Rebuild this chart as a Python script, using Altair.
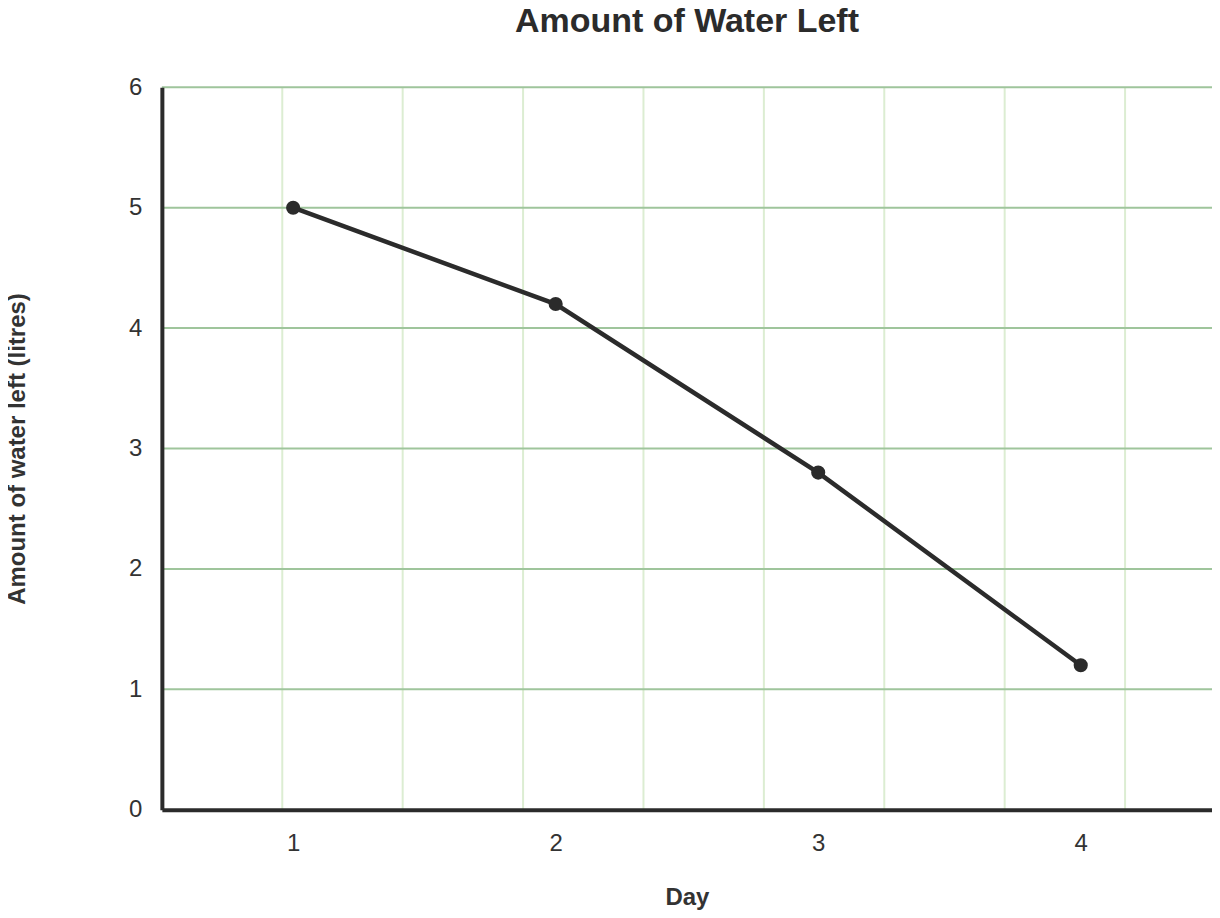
import altair as alt
import pandas as pd

days = ["1", "2", "3", "4"]
water = [5, 4.2, 2.8, 1.2]
y_grid = [1, 2, 3, 4, 5, 6]
v_grid = [1, 2, 3, 4, 5, 6, 7, 8]
v_grid_span = 1051 / 120.5

df = pd.DataFrame({"Day": days, "Water": water})
hg = pd.DataFrame({"y": y_grid})
vg = pd.DataFrame({"x": v_grid})

FONT = "Liberation Sans"
INK = "#2b2b2b"

vrules = alt.Chart(vg).mark_rule(color="#dcedd2", strokeWidth=2).encode(
    x=alt.X("x:Q", scale=alt.Scale(domain=[0, v_grid_span], nice=False, zero=False), axis=None)
)

hrules = alt.Chart(hg).mark_rule(color="#9fc59c", strokeWidth=2).encode(
    y=alt.Y("y:Q", scale=alt.Scale(domain=[0, 6], nice=False))
)

line = alt.Chart(df).mark_line(
    color=INK, strokeWidth=4.5,
    point=alt.OverlayMarkDef(filled=True, size=200, color=INK, opacity=1),
).encode(
    x=alt.X("Day:O", title="Day", sort=days,
            scale=alt.Scale(type="point", padding=0.5),
            axis=alt.Axis(labelAngle=0, ticks=False, grid=False, domainColor=INK,
                          domainWidth=4, labelFontSize=24, labelColor="#333333",
                          labelPadding=22, titleFontSize=24, titleFontWeight="bold",
                          titleColor="#333333", titlePadding=30, zindex=1)),
    y=alt.Y("Water:Q", title="Amount of water left (litres)",
            scale=alt.Scale(domain=[0, 6], nice=False),
            axis=alt.Axis(values=[0, 1, 2, 3, 4, 5, 6], format="d", ticks=False, grid=False,
                          domainColor=INK, domainWidth=4, labelFontSize=24,
                          labelColor="#333333", labelPadding=20, titleFontSize=24,
                          titleFontWeight="bold", titleColor="#333333",
                          titlePadding=99, zindex=1)),
)

chart = alt.layer(vrules, hrules, line).resolve_scale(x="independent").properties(
    width=1051,
    height=723,
    autosize="none",
    padding={"left": 154, "top": 79, "right": 0, "bottom": 100},
    title=alt.TitleParams("Amount of Water Left", fontSize=34, fontWeight="bold",
                          color="#2b2b2b", font=FONT, anchor="middle", frame="group",
                          offset=36),
).configure(font=FONT).configure_view(stroke=None)

chart.save("out.html", embed_options={"renderer": "svg", "actions": False})
